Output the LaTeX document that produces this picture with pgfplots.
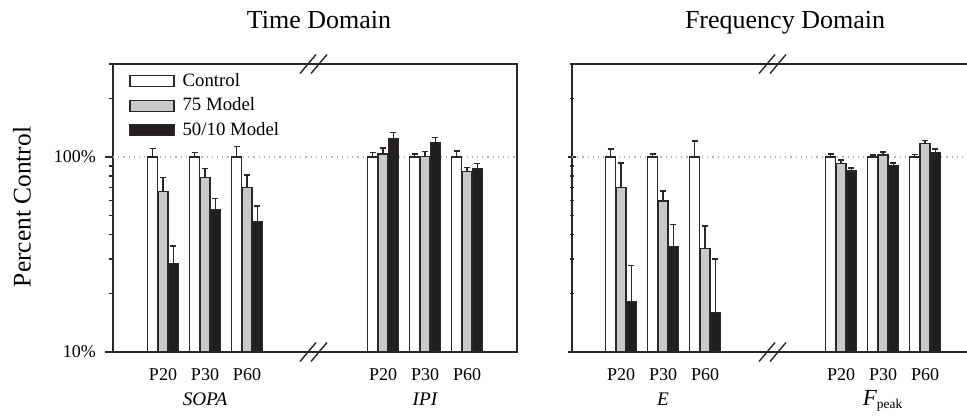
\documentclass[border=0pt]{standalone}
\usepackage{pgfplots}
\usepackage{pgfplotstable}
\pgfplotsset{compat=1.18}
\usepackage{fontspec}
\setmainfont{Liberation Serif}
\definecolor{barGray}{RGB}{200,201,203}
\definecolor{barBlack}{RGB}{35,31,32}
\definecolor{edge}{RGB}{40,40,40}

\pgfplotstableread{
x   c    ce    m    me    b     be
163 100  10.8  66.4 11.9  28.5  6.5
205 100  5.7   78.7 8.4   53.5  7.6
247 100  13.4  69.6 11.2  46.4  9.7
383 100  5.2   103.6 7.6  124.7 8.5
425 100  3.6   100.8 5.7  118.5 7.1
467 100  7.3   84.1 4.1   87.5  5.3
}\tabA

\pgfplotstableread{
x   c    ce    m    me    b     be
621 100  9.9   69.6 23.6  18.1  9.7
663 100  3.6   59.5 7.4   34.7  10.5
705 100  20.8  34.0 10.4  16.0  14.0
841 100  3.6   92.9 3.6   84.8  3.0
883 100  2.4   102.4 3.7  90.2  3.0
925 100  2.8   117.0 4.2  105.2 4.7
}\tabB

\begin{document}
\begin{tikzpicture}
\path[use as bounding box] (0,0) rectangle (483.5pt,209pt);

% Titles
\node[anchor=base, font=\fontsize{13}{15}\selectfont] at (159.5pt,194.5pt) {Time Domain};
\node[anchor=base, font=\fontsize{13}{15}\selectfont] at (392.5pt,194.5pt) {Frequency Domain};
\node[rotate=90, font=\fontsize{12.7}{15}\selectfont] at (11pt,105.5pt) {Percent Control};

% Panel 1: Time domain
\begin{axis}[at={(56.5pt,33pt)}, anchor=south west, scale only axis,
  width=202pt, height=144pt,
  xmin=113, xmax=517, ymode=log, ymin=10, ymax=300, log origin=infty,
  ytick={10,100}, minor ytick={20,30,40,50,60,70,80,90,200,300},
  tick align=outside, major tick length=4pt, minor tick length=2.25pt,
  ytick pos=left, xtick style={draw=none},
  axis line style={edge, line width=0.7pt},
  ytick style={edge, line width=0.7pt},
  xticklabel style={font=\fontsize{9}{10}\selectfont, inner sep=0pt, anchor=north, yshift=-4pt},
  yticklabel style={font=\fontsize{9}{10}\selectfont, xshift=-1pt},
  clip=false,
  yticklabels={10\%,100\%},
  xtick={163,205,247,383,425,467},
  xticklabels={P20,P30,P60,P20,P30,P60},
  legend cell align=left,
  legend style={at={(0.0396,0.983)}, anchor=north west, draw=none, fill=none,
    inner sep=0pt, row sep=0.25pt, column sep=2pt,
    font=\fontsize{9.4}{10}\selectfont},
]
\addplot[gray!60, dotted, line width=0.6pt, forget plot] coordinates {(113,100) (517,100)};
\addplot[ybar, bar width=10, bar shift=0pt, draw=edge, line width=0.6pt, fill=white,
  legend image code/.code={\draw[draw=edge, line width=0.6pt, fill=white] (0pt,-2.75pt) rectangle (22pt,2.75pt);},
  error bars/.cd, y dir=plus, y explicit, error bar style={edge, line width=0.75pt},
  error mark options={edge, line width=0.75pt, mark size=1.5pt, rotate=90}]
  table[x expr=\thisrow{x}-10.3, y=c, y error=ce]{\tabA};
\addplot[ybar, bar width=10, bar shift=0pt, draw=edge, line width=0.6pt, fill=barGray,
  legend image code/.code={\draw[draw=edge, line width=0.6pt, fill=barGray] (0pt,-2.75pt) rectangle (22pt,2.75pt);},
  error bars/.cd, y dir=plus, y explicit, error bar style={edge, line width=0.75pt},
  error mark options={edge, line width=0.75pt, mark size=1.5pt, rotate=90}]
  table[x=x, y=m, y error=me]{\tabA};
\addplot[ybar, bar width=10, bar shift=0pt, draw=edge, line width=0.6pt, fill=barBlack,
  legend image code/.code={\draw[draw=edge, line width=0.6pt, fill=barBlack] (0pt,-2.75pt) rectangle (22pt,2.75pt);},
  error bars/.cd, y dir=plus, y explicit, error bar style={edge, line width=0.75pt},
  error mark options={edge, line width=0.75pt, mark size=1.5pt, rotate=90}]
  table[x expr=\thisrow{x}+10.3, y=b, y error=be]{\tabA};
\legend{Control, 75 Model, 50/10 Model}
\node[anchor=base, font=\itshape\fontsize{9.6}{11}\selectfont, yshift=-26.5pt] at (axis cs:205,10) {SOPA};
\node[anchor=base, font=\itshape\fontsize{9.6}{11}\selectfont, yshift=-26.5pt] at (axis cs:425,10) {IPI};
\draw[edge, line width=0.7pt] (axis cs:313,300) ++(-6.5pt,-4.75pt) -- ++(8pt,9.5pt);
\draw[edge, line width=0.7pt] (axis cs:313,300) ++(-1pt,-4.75pt) -- ++(8pt,9.5pt);
\draw[edge, line width=0.7pt] (axis cs:313,10) ++(-6.5pt,-4.75pt) -- ++(8pt,9.5pt);
\draw[edge, line width=0.7pt] (axis cs:313,10) ++(-1pt,-4.75pt) -- ++(8pt,9.5pt);
\end{axis}

% Panel 2: Frequency domain
\begin{axis}[at={(286pt,33pt)}, anchor=south west, scale only axis,
  width=197.5pt, height=144pt,
  xmin=572, xmax=967, ymode=log, ymin=10, ymax=300, log origin=infty,
  ytick={10,100}, minor ytick={20,30,40,50,60,70,80,90,200,300},
  tick align=outside, major tick length=4pt, minor tick length=2.25pt,
  xtick style={draw=none},
  axis x line=box, axis y line=left,
  axis line style={edge, line width=0.7pt, -},
  ytick style={edge, line width=0.7pt},
  xticklabel style={font=\fontsize{9}{10}\selectfont, inner sep=0pt, anchor=north, yshift=-4pt},
  clip=false,
  yticklabels={,},
  xtick={621,663,705,841,883,925},
  xticklabels={P20,P30,P60,P20,P30,P60},
]
\addplot[gray!60, dotted, line width=0.6pt, forget plot] coordinates {(572,100) (967,100)};
\addplot[ybar, bar width=10, bar shift=0pt, draw=edge, line width=0.6pt, fill=white,
  error bars/.cd, y dir=plus, y explicit, error bar style={edge, line width=0.75pt},
  error mark options={edge, line width=0.75pt, mark size=1.5pt, rotate=90}]
  table[x expr=\thisrow{x}-10.3, y=c, y error=ce]{\tabB};
\addplot[ybar, bar width=10, bar shift=0pt, draw=edge, line width=0.6pt, fill=barGray,
  error bars/.cd, y dir=plus, y explicit, error bar style={edge, line width=0.75pt},
  error mark options={edge, line width=0.75pt, mark size=1.5pt, rotate=90}]
  table[x=x, y=m, y error=me]{\tabB};
\addplot[ybar, bar width=10, bar shift=0pt, draw=edge, line width=0.6pt, fill=barBlack,
  error bars/.cd, y dir=plus, y explicit, error bar style={edge, line width=0.75pt},
  error mark options={edge, line width=0.75pt, mark size=1.5pt, rotate=90}]
  table[x expr=\thisrow{x}+10.3, y=b, y error=be]{\tabB};
\node[anchor=base, font=\itshape\fontsize{9.6}{11}\selectfont, yshift=-26.5pt] at (axis cs:663,10) {E};
\node[anchor=base, font=\fontsize{9.6}{11}\selectfont, yshift=-26.5pt] at (axis cs:883,10) {{\itshape\fontsize{11.5}{12}\selectfont F}\textsubscript{peak}};
\draw[edge, line width=0.7pt] (axis cs:772,300) ++(-6.5pt,-4.75pt) -- ++(8pt,9.5pt);
\draw[edge, line width=0.7pt] (axis cs:772,300) ++(-1pt,-4.75pt) -- ++(8pt,9.5pt);
\draw[edge, line width=0.7pt] (axis cs:772,10) ++(-6.5pt,-4.75pt) -- ++(8pt,9.5pt);
\draw[edge, line width=0.7pt] (axis cs:772,10) ++(-1pt,-4.75pt) -- ++(8pt,9.5pt);
\end{axis}
\end{tikzpicture}
\end{document}
